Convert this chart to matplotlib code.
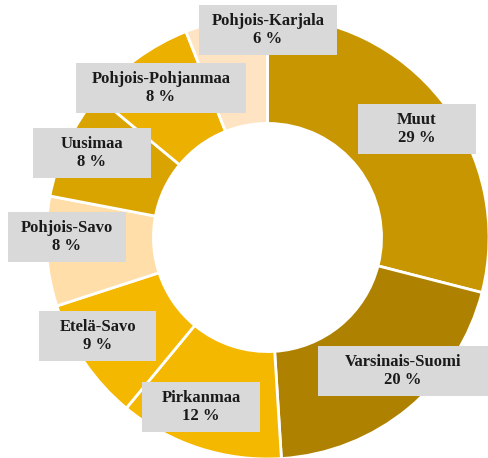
import matplotlib
matplotlib.use("Agg")
import matplotlib.pyplot as plt
from matplotlib.patches import Rectangle

# Data (clockwise from 12 o'clock)
regions = ["Muut", "Varsinais-Suomi", "Pirkanmaa", "Etelä-Savo",
           "Pohjois-Savo", "Uusimaa", "Pohjois-Pohjanmaa", "Pohjois-Karjala"]
shares = [29, 20, 12, 9, 8, 8, 8, 6]
colors = ["#C89600", "#AE8200", "#F5B800", "#F5B800",
          "#FFDEAA", "#D9A400", "#EBB000", "#FFE4C4"]

# label box centres and widths in figure pixels (layout only)
label_px = [(417, 129), (403, 371), (201, 407), (98, 336),
            (67, 237), (92, 153), (161, 88), (268, 30)]
box_w = [118, 170, 118, 117, 118, 118, 170, 138]
box_h = 50

W, H = 489, 458
cx, cy, R = 267.5, 237.5, 221.5

fig = plt.figure(figsize=(W / 100, H / 100), dpi=100)
ax = fig.add_axes([0, 0, 1, 1])

ax.pie(shares, colors=colors, startangle=90, counterclock=False, radius=1,
       wedgeprops=dict(width=0.485, edgecolor="white", linewidth=2))
ax.set_xlim(-cx / R, (W - cx) / R)
ax.set_ylim(-(H - cy) / R, cy / R)
ax.set_aspect("equal", adjustable="datalim")
ax.axis("off")

for name, val, (px, py), bw in zip(regions, shares, label_px, box_w):
    x = (px - cx) / R
    y = (cy - py) / R
    ax.add_patch(Rectangle((x - bw / 2 / R, y - box_h / 2 / R), bw / R, box_h / R,
                           fc="#D9D9D9", ec="none", zorder=3))
    ax.text(x, y, "{}\n{} %".format(name, val),
            ha="center", va="center", fontsize=12, fontweight="bold",
            family="Liberation Serif", color="#1A1A1A", linespacing=1.2,
            zorder=4)

fig.savefig("out.png", dpi=100)
